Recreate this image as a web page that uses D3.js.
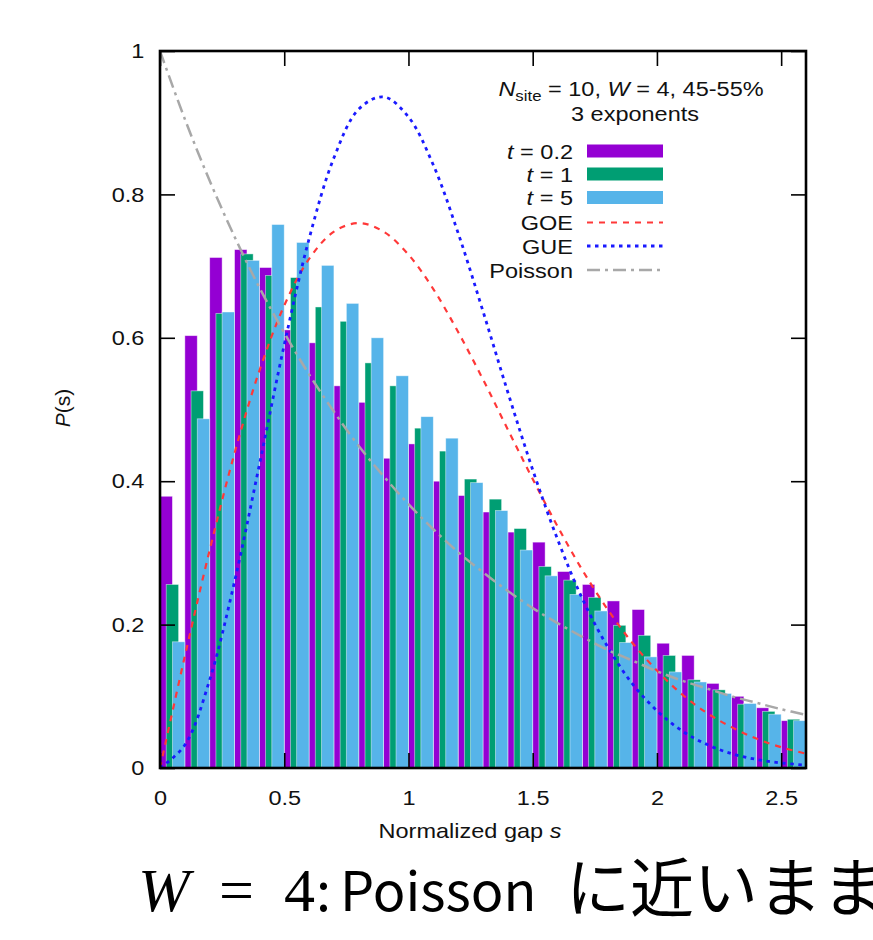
<!doctype html>
<html>
<head>
<meta charset="utf-8">
<title>Level spacing W = 4</title>
<script src="https://d3js.org/d3.v7.min.js"></script>
<style>
  body { margin: 0; background: #fff; }
  text { font-family: "Liberation Sans", Arial, sans-serif; }
</style>
</head>
<body>
<script>
// histogram bins (left edge of each bin, width 0.1)
var binStarts = [0, 0.1, 0.2, 0.3, 0.4, 0.5, 0.6, 0.7, 0.8, 0.9, 1.0, 1.1, 1.2,
                 1.3, 1.4, 1.5, 1.6, 1.7, 1.8, 1.9, 2.0, 2.1, 2.2, 2.3, 2.4, 2.5];
// P(s) for t = 0.2, 1, 5
var pT02 = [0.379, 0.603, 0.712, 0.723, 0.698, 0.611, 0.593, 0.533, 0.510, 0.432, 0.452, 0.400, 0.380,
            0.357, 0.329, 0.315, 0.274, 0.256, 0.233, 0.221, 0.174, 0.157, 0.118, 0.100, 0.084, 0.066];
var pT1  = [0.256, 0.526, 0.634, 0.717, 0.687, 0.684, 0.643, 0.623, 0.565, 0.533, 0.474, 0.442, 0.403,
            0.375, 0.334, 0.281, 0.262, 0.238, 0.199, 0.185, 0.157, 0.123, 0.109, 0.089, 0.079, 0.068];
var pT5  = [0.176, 0.487, 0.636, 0.708, 0.758, 0.733, 0.701, 0.648, 0.600, 0.547, 0.490, 0.460, 0.398,
            0.359, 0.304, 0.268, 0.242, 0.219, 0.175, 0.155, 0.134, 0.120, 0.104, 0.090, 0.075, 0.066];

// reference curves sampled every 0.1
var sCurve  = [0, 0.1, 0.2, 0.3, 0.4, 0.5, 0.6, 0.7, 0.8, 0.9, 1.0, 1.1, 1.2, 1.3,
               1.4, 1.5, 1.6, 1.7, 1.8, 1.9, 2.0, 2.1, 2.2, 2.3, 2.4, 2.5, 2.6];
var goe     = [0, 0.156, 0.304, 0.439, 0.554, 0.645, 0.710, 0.748, 0.760, 0.748, 0.716, 0.668, 0.608, 0.542,
               0.472, 0.403, 0.337, 0.276, 0.222, 0.175, 0.136, 0.103, 0.077, 0.057, 0.041, 0.029, 0.020];
var gue     = [0, 0.032, 0.123, 0.260, 0.423, 0.590, 0.738, 0.851, 0.919, 0.936, 0.908, 0.841, 0.746, 0.637,
               0.524, 0.416, 0.319, 0.236, 0.170, 0.118, 0.080, 0.052, 0.033, 0.020, 0.012, 0.007, 0.004];
var poisson = [1, 0.905, 0.819, 0.741, 0.670, 0.607, 0.549, 0.497, 0.449, 0.407, 0.368, 0.333, 0.301, 0.273,
               0.247, 0.223, 0.202, 0.183, 0.165, 0.150, 0.135, 0.122, 0.111, 0.100, 0.091, 0.082, 0.074];

var xTicks = [0, 0.5, 1, 1.5, 2, 2.5];
var yTicks = [0, 0.2, 0.4, 0.6, 0.8, 1];
var tLabels = ["0.2", "1", "5"];
var curveLabels = ["GOE", "GUE", "Poisson"];

var vizWidth = 873, vizHeight = 940,
    plot = {left: 160, right: 806, top: 51, bottom: 768},
    stretch = "scale(1.12,1)";

var barColors = ["#9400d3", "#009e73", "#56b4e9"];
var curveStyles = [
  {color: "#ff3838", width: 2.2, dash: "6,6"},
  {color: "#1a1aff", width: 2.8, dash: "3.5,4.5"},
  {color: "#a8a8a8", width: 2.5, dash: "13,5,3,5"}
];

var viz = d3.select("body").append("svg")
    .attr("width", vizWidth)
    .attr("height", vizHeight);

var x = d3.scaleLinear().domain([0, 2.6]).range([plot.left, plot.right]);
var y = d3.scaleLinear().domain([0, 1]).range([plot.bottom, plot.top]);

viz.append("clipPath").attr("id", "clip")
  .append("rect")
    .attr("x", plot.left).attr("y", plot.top)
    .attr("width", plot.right - plot.left).attr("height", plot.bottom - plot.top);

var panel = viz.append("g").attr("clip-path", "url(#clip)");

// bars: three overlapping bars per bin, each 0.05 wide, shifted by 0.025
var series = [pT02, pT1, pT5];
series.forEach(function(vals, i) {
  panel.append("g").selectAll("rect")
    .data(binStarts)
    .enter()
    .append("rect")
      .attr("x", function(s) { return x(s + i * 0.025); })
      .attr("width", function(s) { return x(s + i * 0.025 + 0.05) - x(s + i * 0.025); })
      .attr("y", function(s, j) { return y(vals[j]); })
      .attr("height", function(s, j) { return y(0) - y(vals[j]); })
      .attr("fill", barColors[i])
      .attr("stroke", "#fff")
      .attr("stroke-opacity", 0.55)
      .attr("stroke-width", 0.8);
});

// theory curves
var line = d3.line()
    .x(function(d) { return x(d[0]); })
    .y(function(d) { return y(d[1]); })
    .curve(d3.curveCatmullRom);

[goe, gue, poisson].forEach(function(vals, i) {
  panel.append("path")
    .datum(sCurve.map(function(s, j) { return [s, vals[j]]; }))
    .attr("d", line)
    .attr("fill", "none")
    .attr("stroke", curveStyles[i].color)
    .attr("stroke-width", curveStyles[i].width)
    .attr("stroke-dasharray", curveStyles[i].dash);
});

// axes (ticks inside on all four sides)
function styleAxis(g) {
  g.select(".domain").remove();
  g.selectAll(".tick line").attr("stroke", "#000").attr("stroke-width", 1.6);
  g.selectAll(".tick text").style("font-size", "21px").attr("fill", "#111");
}

viz.append("g")
    .attr("transform", "translate(" + plot.left + ",0)")
    .call(d3.axisLeft(y).tickValues(yTicks).tickSize(-15).tickPadding(14).tickFormat(d3.format("")))
    .call(styleAxis)
    .selectAll(".tick text").attr("transform", stretch);

viz.append("g")
    .attr("transform", "translate(" + plot.right + ",0)")
    .call(d3.axisRight(y).tickValues(yTicks).tickSize(-15).tickFormat(""))
    .call(styleAxis);

viz.append("g")
    .attr("transform", "translate(0," + plot.bottom + ")")
    .call(d3.axisBottom(x).tickValues(xTicks).tickSize(-15).tickPadding(22).tickFormat(d3.format("")))
    .call(styleAxis)
    .selectAll(".tick text").attr("transform", stretch);

viz.append("g")
    .attr("transform", "translate(0," + plot.top + ")")
    .call(d3.axisTop(x).tickValues(xTicks).tickSize(-15).tickFormat(""))
    .call(styleAxis);

viz.append("rect")
    .attr("x", plot.left).attr("y", plot.top)
    .attr("width", plot.right - plot.left).attr("height", plot.bottom - plot.top)
    .attr("fill", "none")
    .attr("stroke", "#000")
    .attr("stroke-width", 2.6);

// axis titles
var xTitle = viz.append("text")
    .attr("transform", "translate(470,838) " + stretch)
    .attr("text-anchor", "middle")
    .style("font-size", "21px")
    .attr("fill", "#111");
xTitle.append("tspan").text("Normalized gap ");
xTitle.append("tspan").style("font-style", "italic").text("s");

var yTitle = viz.append("text")
    .attr("transform", "translate(70,408) rotate(-90)")
    .attr("text-anchor", "middle")
    .style("font-size", "21px")
    .attr("fill", "#111");
yTitle.append("tspan").style("font-style", "italic").text("P");
yTitle.append("tspan").text("(s)");

// legend
var legend = viz.append("g");

var head = legend.append("text")
    .attr("transform", "translate(631,96) " + stretch)
    .attr("text-anchor", "middle")
    .style("font-size", "21px")
    .attr("fill", "#111");
head.append("tspan").style("font-style", "italic").text("N");
head.append("tspan").style("font-size", "15px").attr("dy", 5).text("site");
head.append("tspan").attr("dy", -5).text(" = 10, ");
head.append("tspan").style("font-style", "italic").text("W");
head.append("tspan").text(" = 4, 45-55%");

legend.append("text")
    .attr("transform", "translate(635,121) " + stretch)
    .attr("text-anchor", "middle")
    .style("font-size", "21px")
    .attr("fill", "#111")
    .text("3 exponents");

var rowY = [151, 174, 197.5, 222.5, 246, 270];

tLabels.forEach(function(lab, i) {
  var t = legend.append("text")
      .attr("transform", "translate(573," + (rowY[i] + 7.5) + ") " + stretch)
      .attr("text-anchor", "end")
      .style("font-size", "21px")
      .attr("fill", "#111");
  t.append("tspan").style("font-style", "italic").text("t");
  t.append("tspan").text(" = " + lab);
  legend.append("rect")
      .attr("x", 587).attr("y", rowY[i] - 6.5)
      .attr("width", 76).attr("height", 13)
      .attr("fill", barColors[i]);
});

curveLabels.forEach(function(lab, i) {
  var r = rowY[i + 3];
  legend.append("text")
      .attr("transform", "translate(573," + (r + 7.5) + ") " + stretch)
      .attr("text-anchor", "end")
      .style("font-size", "21px")
      .attr("fill", "#111")
      .text(lab);
  legend.append("line")
      .attr("x1", 587).attr("x2", 663)
      .attr("y1", r).attr("y2", r)
      .attr("stroke", curveStyles[i].color)
      .attr("stroke-width", curveStyles[i].width)
      .attr("stroke-dasharray", curveStyles[i].dash);
});

// slide caption under the chart (runs off the right edge, as in the slide)
var cap = viz.append("g").attr("fill", "#000");
cap.append("text")
    .attr("x", 138).attr("y", 911)
    .style("font-family", "'Liberation Serif', serif")
    .style("font-style", "italic")
    .style("font-size", "62px")
    .text("W");
cap.append("text")
    .attr("x", 219).attr("y", 911)
    .style("font-family", "'Liberation Serif', serif")
    .style("font-size", "62px")
    .text("=");
cap.append("text")
    .attr("x", 284).attr("y", 911)
    .style("font-family", "'Liberation Serif', serif")
    .style("font-size", "62px")
    .text("4");
cap.append("text")
    .attr("x", 316).attr("y", 911)
    .style("font-family", "'Noto Sans CJK JP', sans-serif")
    .style("font-size", "54px")
    .text(":");
cap.append("text")
    .attr("x", 340).attr("y", 911)
    .style("font-family", "'Noto Sans CJK JP', sans-serif")
    .style("font-size", "54px")
    .text("Poisson");
cap.append("text")
    .attr("x", 566).attr("y", 911)
    .style("font-family", "'Noto Sans CJK JP', sans-serif")
    .style("font-size", "64px")
    .text("に近いまま");
</script>
</body>
</html>
